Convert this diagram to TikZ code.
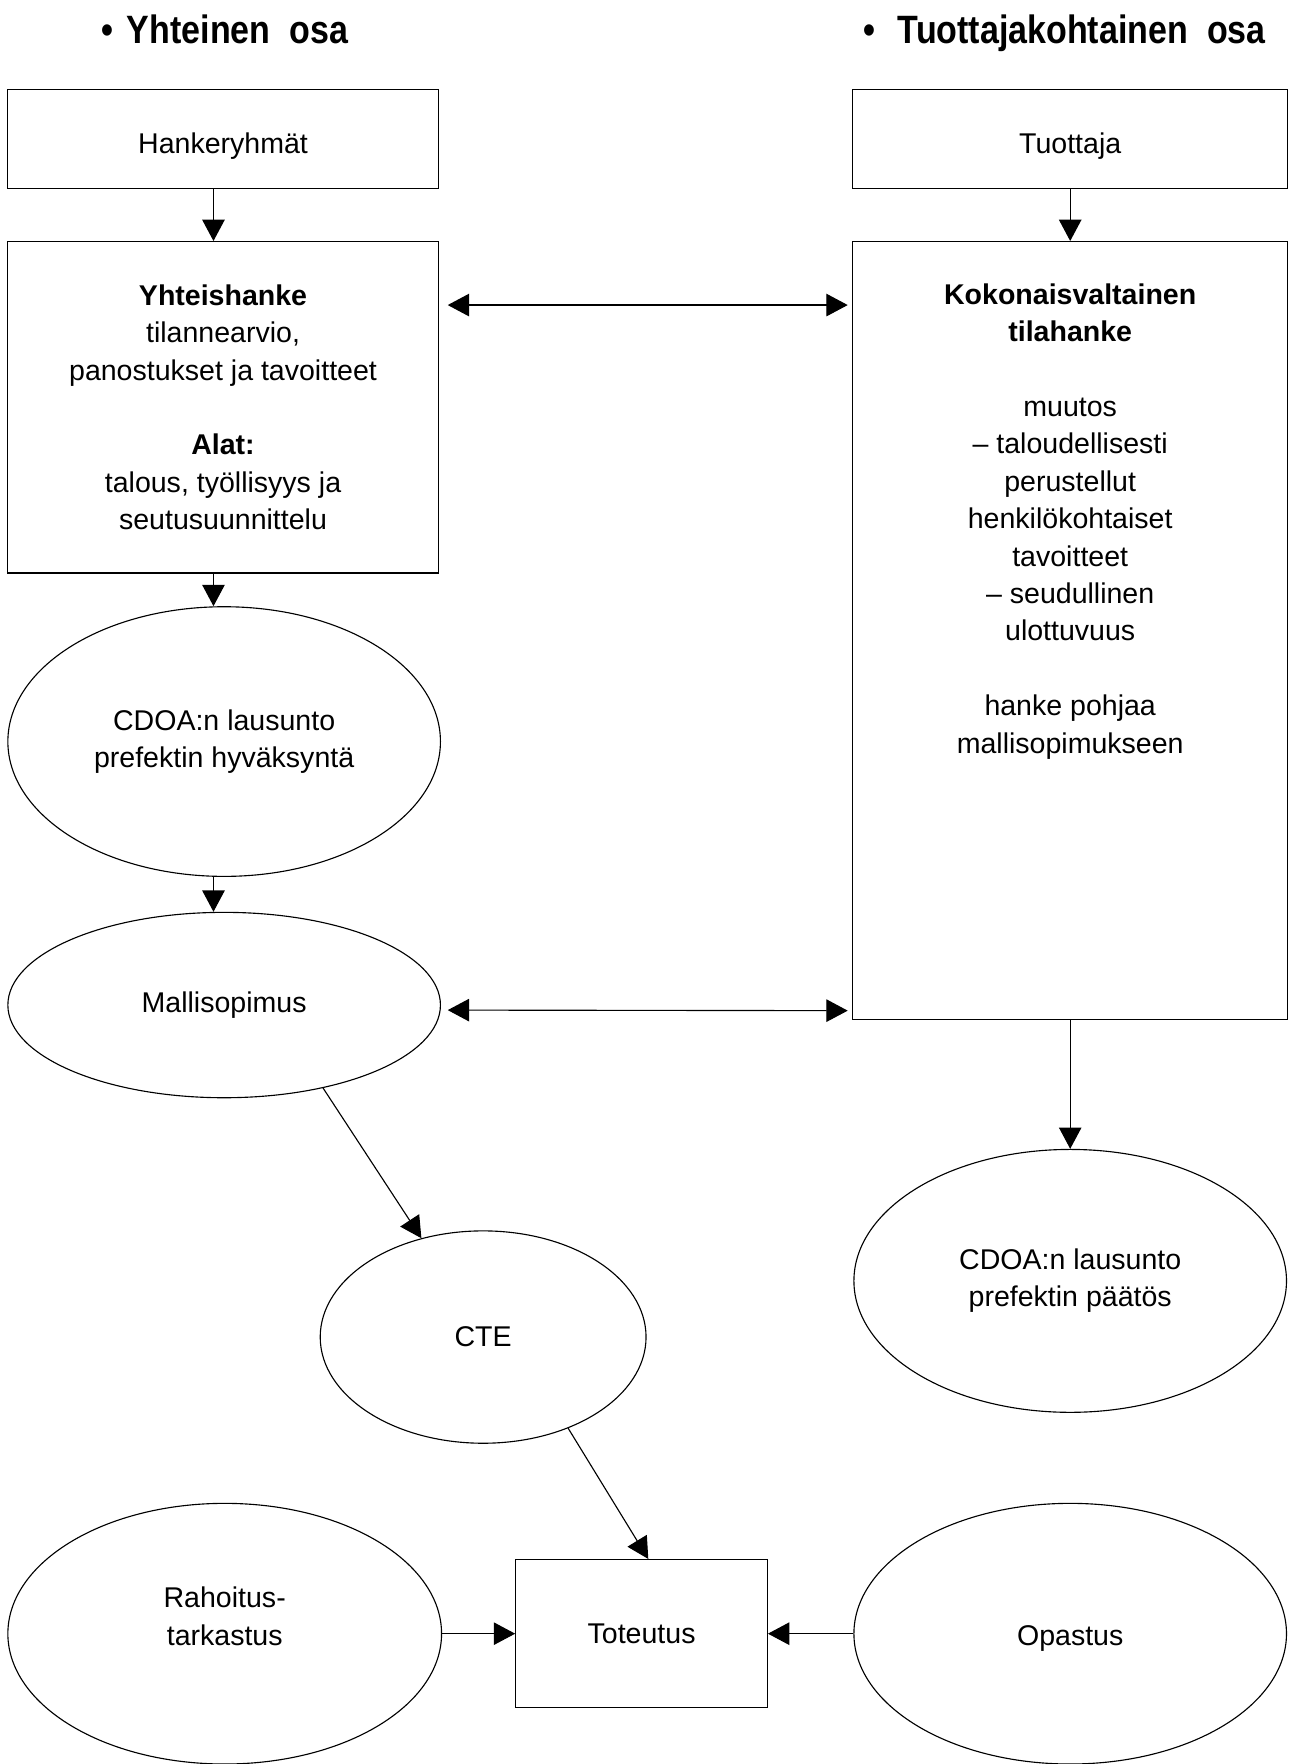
\documentclass[tikz,border=0pt]{standalone}
\usepackage{fontspec}
\setmainfont{Liberation Sans}
\newfontfamily\titlefont[FakeStretch=0.86]{Liberation Sans}
\usetikzlibrary{shapes.geometric,arrows.meta,positioning}

\begin{document}
\begin{tikzpicture}[x=0.5pt,y=-0.5pt,
    every node/.append style={font=\fontsize{12.7pt}{16.65pt}\selectfont},
    box/.style={draw, line width=0.5pt, inner sep=0pt, align=center},
    oval/.style={draw, ellipse, line width=0.5pt, inner sep=0pt, align=center},
    arr/.style={line width=0.5pt, -{Triangle[length=9.5pt,width=10pt]}},
    darr/.style={line width=0.5pt, {Triangle[length=9.5pt,width=10pt]}-{Triangle[length=9.5pt,width=10pt]}},
    heading/.style={font=\titlefont\bfseries\fontsize{17.6pt}{21pt}\selectfont, inner sep=0pt}]
    \useasboundingbox (0,0) rectangle (1147,1570);

    % Headings
    \node[heading, anchor=base west] (lhead) at (90,38.5) {•\hspace{6pt}Yhteinen\ \ osa};
    \node[heading, anchor=base west] (rhead) at (768,38.5) {•\hspace{10pt}Tuottajakohtainen\ \ osa};

    % Left column
    \node[box, minimum width=191.5pt, minimum height=44pt, text height=15.4pt, text depth=2.7pt] (hank) at (198.5,124) {Hankeryhmät};
    \node[box, minimum width=191.5pt, minimum height=147.5pt] (yht) at (198.5,362.5) {\textbf{Yhteishanke}\\tilannearvio,\\panostukset ja tavoitteet\\[16.65pt]\textbf{Alat:}\\talous, työllisyys ja\\seutusuunnittelu};
    \node[oval, minimum width=192.5pt, minimum height=120pt] (cdoa1) at (199.5,660) {CDOA:n lausunto\\prefektin hyväksyntä};
    \node[oval, minimum width=192.5pt, minimum height=82.5pt] (malli) at (199.5,894.5) {Mallisopimus};
    \node[oval, minimum width=145pt, minimum height=94.5pt] (cte) at (430,1190) {CTE};
    \node[oval, minimum width=193pt, minimum height=116pt] (rah) at (200,1454) {};
    \node[align=center] (rahtext) at (200,1438.5) {Rahoitus-\\tarkastus};
    \node[box, minimum width=112pt, minimum height=66pt] (tot) at (571,1454) {Toteutus};

    % Right column
    \node[box, minimum width=193.5pt, minimum height=44pt, text height=15.4pt, text depth=2.7pt] (tuot) at (952.5,124) {Tuottaja};
    \node[box, minimum width=193.5pt, minimum height=346pt] (koko) at (952.5,561) {};
    \node[align=center] (kokotext) at (952.5,464) {\textbf{Kokonaisvaltainen}\\\textbf{tilahanke}\\[16.65pt]muutos\\– taloudellisesti\\perustellut\\henkilökohtaiset\\tavoitteet\\– seudullinen\\ulottuvuus\\[16.65pt]hanke pohjaa\\mallisopimukseen};
    \node[oval, minimum width=192.5pt, minimum height=117pt] (cdoa2) at (952.5,1140) {CDOA:n lausunto\\prefektin päätös};
    \node[oval, minimum width=192.5pt, minimum height=116pt, text height=13.2pt, text depth=2.7pt] (opa) at (952.5,1454) {Opastus};

    % Vertical flow
    \draw[arr] ([xshift=-4.25pt]hank.south) -- ([xshift=-4.25pt]yht.north);
    \draw[arr] (tuot.south) -- (koko.north);
    \draw[arr] ([xshift=-4.25pt]yht.south) -- ([xshift=-4.25pt]yht.south |- cdoa1.north);
    \draw[arr] ([xshift=-4.75pt]cdoa1.south) -- ([xshift=-4.75pt]cdoa1.south |- malli.north);
    \draw[arr] (koko.south) -- (cdoa2.north);

    % Links between the two parts
    \draw[darr] ([shift={(8,57)}]yht.north east) -- ([shift={(-4,57)}]koko.north west);
    \draw[darr] ([shift={(6,4.5)}]malli.east) -- ([shift={(-4,-8)}]koko.south west);

    % Towards Toteutus
    \draw[arr] (malli.-40.7) -- (cte.122);
    \draw[arr] (cte.-47) -- ([xshift=3pt]tot.north);
    \draw[arr] (rah.east) -- (tot.west);
    \draw[arr] (opa.west) -- (tot.east);
\end{tikzpicture}
\end{document}
